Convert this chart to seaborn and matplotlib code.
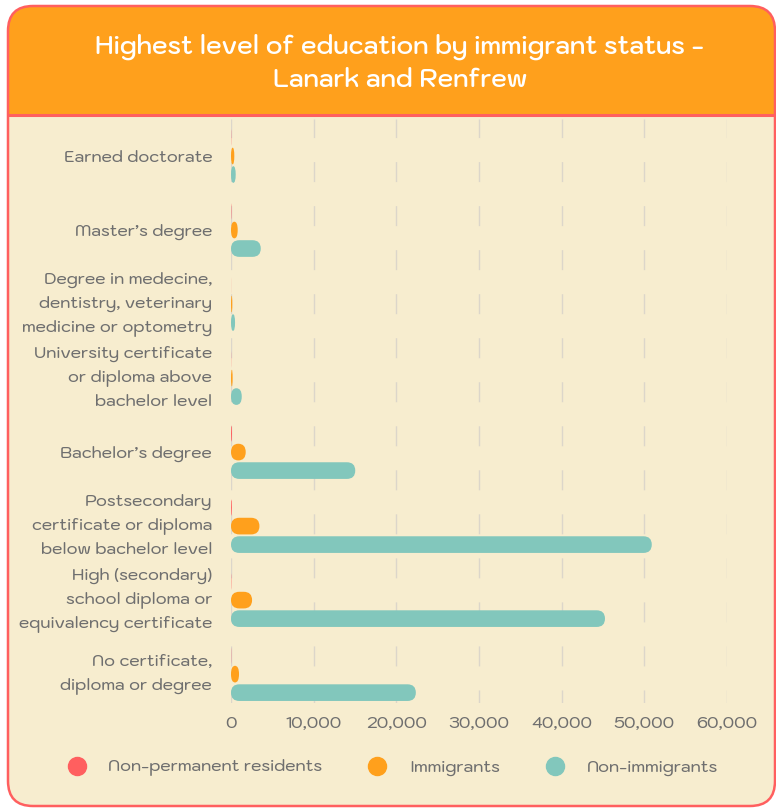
import matplotlib
matplotlib.use("Agg")
import pandas as pd
import seaborn as sns
import matplotlib.pyplot as plt
from matplotlib.patches import FancyBboxPatch, Rectangle
from matplotlib.lines import Line2D

# data
categories = [
    "Earned doctorate",
    "Master’s degree",
    "Degree in medecine,\ndentistry, veterinary\nmedicine or optometry",
    "University certificate\nor diploma above\nbachelor level",
    "Bachelor’s degree",
    "Postsecondary\ncertificate or diploma\nbelow bachelor level",
    "High (secondary)\nschool diploma or\nequivalency certificate",
    "No certificate,\ndiploma or degree",
]
statuses = ["Non-permanent residents", "Immigrants", "Non-immigrants"]
non_permanent = [30, 50, 10, 20, 120, 110, 40, 30]
immigrants = [400, 810, 160, 200, 1780, 3440, 2550, 970]
non_immigrants = [570, 3600, 490, 1300, 15030, 50900, 45240, 22360]
x_ticks = [0, 10000, 20000, 30000, 40000, 50000, 60000]

colors = ["#ff5f5f", "#ffa01c", "#82c7bc"]
cream = "#f7edcf"
red = "#ff5f5f"
orange = "#ffa01c"
gray = "#6f6f6f"

df = pd.DataFrame({
    "category": categories * 3,
    "status": [s for s in statuses for _ in categories],
    "value": non_permanent + immigrants + non_immigrants,
})

sns.set_style("white")
plt.rcParams["font.family"] = ["Kodchasan", "DejaVu Sans"]
plt.rcParams["lines.scale_dashes"] = False

W, H = 776, 808
fig = plt.figure(figsize=(W / 100, H / 100), dpi=100)
fig.patch.set_facecolor("white")

# card background, banner and border (pixel positions -> inches)
def inch_y(py):
    return (H - py) / 100

tr = fig.dpi_scale_trans
fig.add_artist(FancyBboxPatch((0.08, inch_y(806)), 7.67, 8.00,
                              boxstyle="round,pad=0,rounding_size=0.25",
                              fc=cream, ec="none", transform=tr, zorder=-5))
fig.add_artist(FancyBboxPatch((0.08, inch_y(140)), 7.67, (140 - 6) / 100,
                              boxstyle="round,pad=0,rounding_size=0.25",
                              fc=orange, ec="none", transform=tr, zorder=-4))
fig.add_artist(Rectangle((0.08, inch_y(140)), 7.67, (140 - 115) / 100,
                         fc=cream, ec="none", transform=tr, zorder=-3))
fig.add_artist(Line2D([0.08, 7.75], [inch_y(115), inch_y(115)], color=red, lw=2.2,
                      transform=tr, zorder=-2))
fig.add_artist(FancyBboxPatch((0.08, inch_y(806)), 7.67, 8.00,
                              boxstyle="round,pad=0,rounding_size=0.25",
                              fc="none", ec=red, lw=1.8, transform=tr, zorder=-1))

fig.text(400 / W, 1 - 64 / H, "Highest level of education by immigrant status -\nLanark and Renfrew",
         ha="center", va="center", color="white", fontsize=18, fontweight="semibold",
         linespacing=1.28)

ax = fig.add_axes([231 / W, (H - 703) / H, 496 / W, 584 / H])
ax.set_facecolor("none")

sns.barplot(data=df, x="value", y="category", hue="status", hue_order=statuses,
            palette=colors, saturation=1, orient="h", width=0.75, gap=0.1,
            legend=False, ax=ax)

ax.set_xlim(0, 60000)
ax.set_ylim(7.39, -0.5)

# turn the flat bars into rounded pills
p0 = ax.transData.transform((0, 0))
p1 = ax.transData.transform((1, 1))
sx = abs(p1[0] - p0[0])
sy = abs(p1[1] - p0[1])
for bar in list(ax.patches):
    x, y = bar.get_x(), bar.get_y()
    w, h = bar.get_width(), bar.get_height()
    fc = bar.get_facecolor()
    bar.remove()
    if w <= 0:
        continue
    r = min(h * sy / 2 / sx, w / 2)
    ax.add_patch(FancyBboxPatch((x, y), w, h,
                                boxstyle=f"round,pad=0,rounding_size={r}",
                                mutation_aspect=(h / 2) / r,
                                fc=fc, ec="none", lw=0, zorder=2))

ax.set_axisbelow(True)
ax.grid(axis="x", color="#dcd6ca", lw=1.0, linestyle=(5.0, (14.4, 17.3)))
ax.grid(axis="y", visible=False)
ax.set_xticks(x_ticks)
ax.set_xticklabels([f"{v:,}" for v in x_ticks])
ax.tick_params(axis="both", length=0, labelsize=12, labelcolor=gray)
ax.tick_params(axis="x", pad=9)
ax.tick_params(axis="y", pad=13.5)
for lbl in ax.get_xticklabels() + ax.get_yticklabels():
    lbl.set_fontweight("medium")
for lbl in ax.get_yticklabels():
    if "\n" in lbl.get_text():
        lbl.set_linespacing(1.6)
        lbl.set_verticalalignment("center")
ax.set_xlabel("")
ax.set_ylabel("")
sns.despine(ax=ax, left=True, bottom=True)

handles = [Line2D([], [], marker="o", ls="", markersize=13, color=c) for c in colors]
fig.legend(handles, statuses, loc="center", bbox_to_anchor=(393 / W, 1 - 768 / H),
           ncol=3, frameon=False, labelcolor=gray, handlelength=1.0,
           handletextpad=1.4, columnspacing=2.8,
           prop={"size": 12, "weight": "medium"})

fig.savefig("out.png", dpi=100)
